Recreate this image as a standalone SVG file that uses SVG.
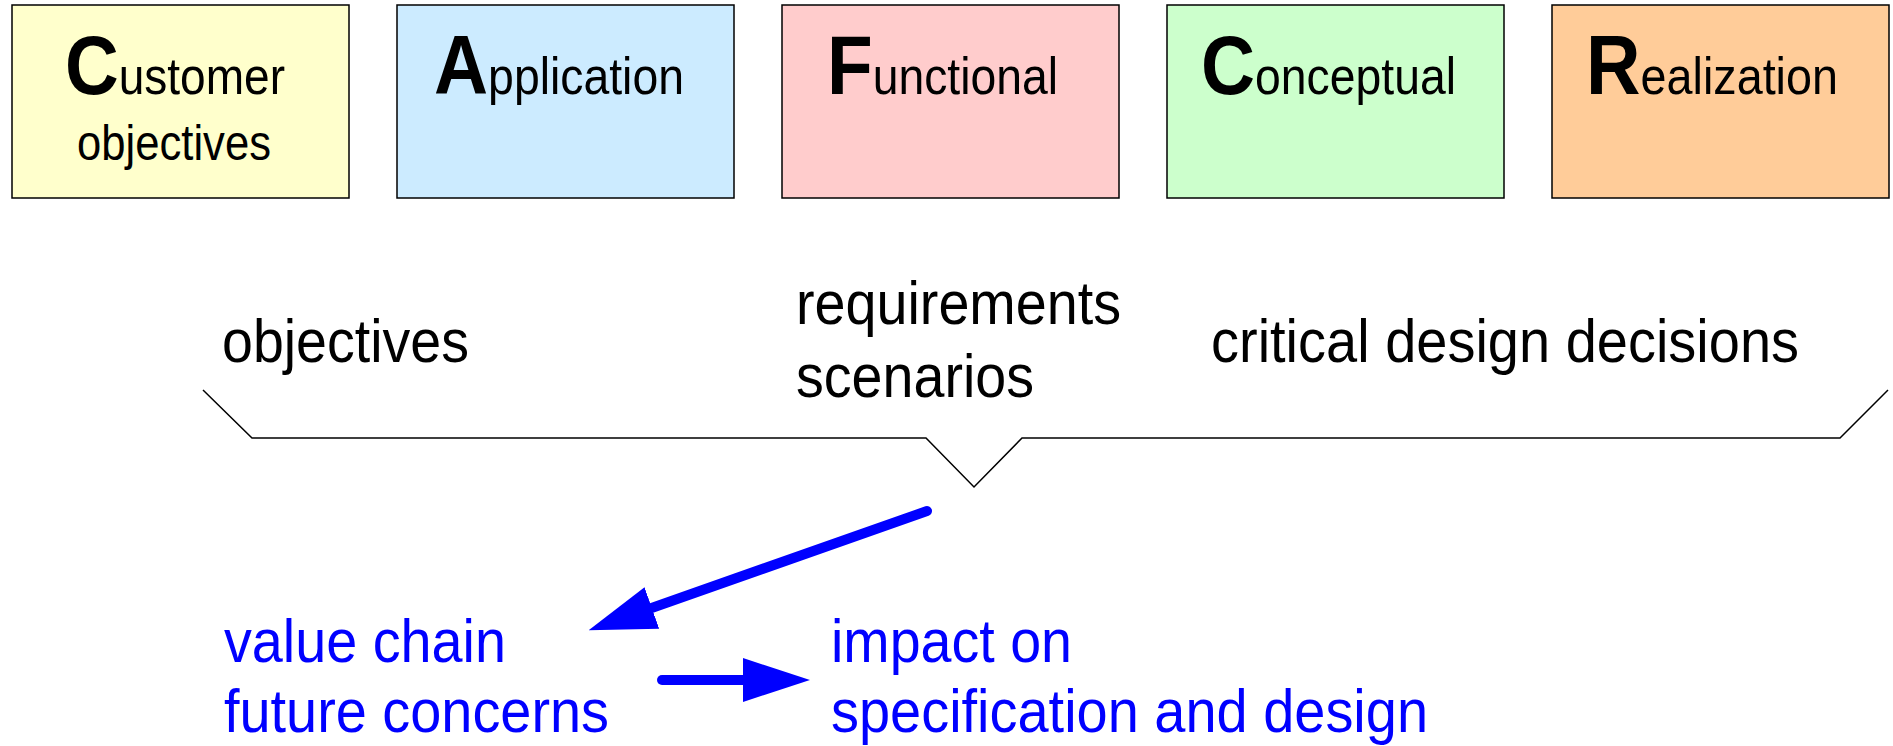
<svg xmlns="http://www.w3.org/2000/svg" width="1893" height="746" viewBox="0 0 1893 746">
<style>
.box{stroke:#000;stroke-width:1.5}
.t{font-family:"Liberation Sans",Arial,sans-serif;fill:#000}
.big{font-weight:bold;font-size:84px}
.sm{font-size:52px}
.mid{font-family:"Liberation Sans",Arial,sans-serif;font-size:62px;fill:#000}
.blue{font-family:"Liberation Sans",Arial,sans-serif;font-size:62px;fill:#0000FF}
.arrow{stroke:#0000FF;stroke-width:10;stroke-linecap:round;fill:none;marker-end:url(#ah)}
</style>
<defs>
<marker id="ah" markerUnits="userSpaceOnUse" markerWidth="67" markerHeight="44" viewBox="0 0 67 44" refX="10" refY="22" orient="auto">
<path d="M0,0 L67,22 L0,44 Z" fill="#0000FF"/>
</marker>
</defs>
<rect width="1893" height="746" fill="#fff"/>
<g id="customer">
<rect class="box" x="12" y="5" width="337" height="193" fill="#FFFFCC"/>
<text class="t" x="65" y="94" textLength="220" lengthAdjust="spacingAndGlyphs"><tspan class="big">C</tspan><tspan class="sm">ustomer</tspan></text>
<text class="t" x="77" y="160" font-size="50" textLength="194" lengthAdjust="spacingAndGlyphs">objectives</text>
</g>
<g id="application">
<rect class="box" x="397" y="5" width="337" height="193" fill="#CCEBFF"/>
<text class="t" x="434" y="94" textLength="250" lengthAdjust="spacingAndGlyphs"><tspan class="big">A</tspan><tspan class="sm">pplication</tspan></text>
</g>
<g id="functional">
<rect class="box" x="782" y="5" width="337" height="193" fill="#FFCCCC"/>
<text class="t" x="827" y="94" textLength="231" lengthAdjust="spacingAndGlyphs"><tspan class="big">F</tspan><tspan class="sm">unctional</tspan></text>
</g>
<g id="conceptual">
<rect class="box" x="1167" y="5" width="337" height="193" fill="#CCFFCC"/>
<text class="t" x="1201" y="94" textLength="255" lengthAdjust="spacingAndGlyphs"><tspan class="big">C</tspan><tspan class="sm">onceptual</tspan></text>
</g>
<g id="realization">
<rect class="box" x="1552" y="5" width="337" height="193" fill="#FFCC99"/>
<text class="t" x="1586" y="94" textLength="252" lengthAdjust="spacingAndGlyphs"><tspan class="big">R</tspan><tspan class="sm">ealization</tspan></text>
</g>
<g id="brace">
<polyline points="203,390 252,438 926,438 974,487 1022,438 1840,438 1888,390" fill="none" stroke="#000" stroke-width="1.5"/>
<text class="mid" x="222" y="362" textLength="247" lengthAdjust="spacingAndGlyphs">objectives</text>
<text class="mid" x="796" y="324" textLength="325" lengthAdjust="spacingAndGlyphs">requirements</text>
<text class="mid" x="796" y="397" textLength="238" lengthAdjust="spacingAndGlyphs">scenarios</text>
<text class="mid" x="1211" y="362" textLength="588" lengthAdjust="spacingAndGlyphs">critical design decisions</text>
</g>
<g id="value">
<text class="blue" x="224" y="662" textLength="282" lengthAdjust="spacingAndGlyphs">value chain</text>
<text class="blue" x="224" y="732" textLength="385" lengthAdjust="spacingAndGlyphs">future concerns</text>
</g>
<g id="impact">
<text class="blue" x="831" y="662" textLength="241" lengthAdjust="spacingAndGlyphs">impact on</text>
<text class="blue" x="831" y="732" textLength="597" lengthAdjust="spacingAndGlyphs">specification and design</text>
</g>
<g id="connectors">
<line class="arrow" x1="927" y1="511" x2="642.4" y2="611.2"/>
<line class="arrow" x1="662" y1="680" x2="753" y2="680"/>
</g>
</svg>
